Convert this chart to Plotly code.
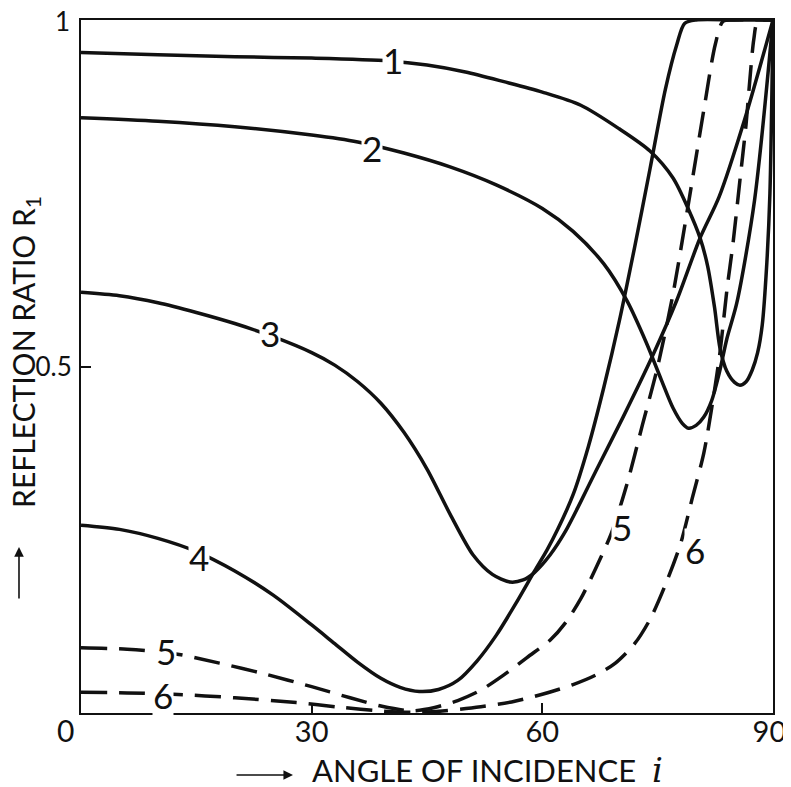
import plotly.graph_objects as go

# ---- data (angle of incidence in degrees, reflection ratio R1) ----
c1_x = [0, 10, 20, 30, 40, 45, 50, 55, 60, 65, 70, 74, 77, 79, 80.5, 81.5, 82.4, 83.1, 84, 85, 85.7, 86.5, 87.3, 88, 88.6, 89.2, 89.6, 90]
c1_y = [0.953, 0.950, 0.947, 0.945, 0.941, 0.935, 0.925, 0.911, 0.896, 0.877, 0.843, 0.811, 0.772, 0.727, 0.686, 0.645, 0.585, 0.527, 0.493, 0.477, 0.473, 0.478, 0.495, 0.52, 0.56, 0.65, 0.75, 1.0]

c2_x = [0, 10, 20, 30, 36, 42, 48, 54, 60, 64, 68, 71, 73.5, 75.5, 77, 78.2, 79, 80, 81, 82, 83, 84, 85.3, 87.6, 90]
c2_y = [0.859, 0.854, 0.846, 0.834, 0.824, 0.808, 0.788, 0.762, 0.728, 0.695, 0.648, 0.595, 0.535, 0.48, 0.44, 0.418, 0.411, 0.415, 0.427, 0.45, 0.49, 0.54, 0.592, 0.74, 1.0]

c3_x = [0, 5, 10, 15, 20, 25, 30, 33, 36, 39, 42, 45, 48, 51, 53.5, 55.8, 57.5, 59, 61, 63, 65, 67, 70.5, 74.4, 77.5, 80.5, 83, 86.3, 90]
c3_y = [0.607, 0.602, 0.592, 0.578, 0.562, 0.543, 0.520, 0.502, 0.478, 0.447, 0.405, 0.352, 0.287, 0.228, 0.200, 0.189, 0.192, 0.203, 0.228, 0.262, 0.305, 0.35, 0.427, 0.517, 0.596, 0.685, 0.745, 0.856, 1.0]

c4_x = [0, 5, 10, 15, 20, 25, 30, 33, 36, 39, 41.5, 44, 46.5, 49, 51.5, 54, 56.5, 59, 60.6, 62, 64, 66, 68, 70, 72, 74, 76, 77.5, 78.5, 80, 85, 90]
c4_y = [0.271, 0.265, 0.252, 0.233, 0.205, 0.170, 0.127, 0.100, 0.073, 0.050, 0.037, 0.031, 0.034, 0.047, 0.075, 0.112, 0.157, 0.205, 0.235, 0.265, 0.315, 0.385, 0.47, 0.565, 0.672, 0.785, 0.9, 0.965, 0.995, 1.0, 1.0, 1.0]

c5_x = [0, 6, 12, 18, 24, 30, 35, 39, 43, 46, 49, 52, 55, 58, 61, 63, 65, 67, 69, 71, 73, 75, 77, 79, 81, 82.5, 83.5, 85, 90]
c5_y = [0.094, 0.092, 0.086, 0.072, 0.056, 0.038, 0.022, 0.010, 0.003, 0.008, 0.018, 0.033, 0.055, 0.080, 0.105, 0.13, 0.165, 0.21, 0.26, 0.33, 0.415, 0.50, 0.605, 0.735, 0.87, 0.965, 0.998, 1.0, 1.0]

c6_x = [0, 6, 12, 20, 28, 34, 39, 43, 47, 52, 56, 60, 64, 67, 69.5, 72, 74, 76, 78, 79.5, 81, 82.2, 83.1, 84, 84.8, 85.7, 86.5, 87, 87.5, 88, 89, 90]
c6_y = [0.030, 0.029, 0.027, 0.022, 0.015, 0.008, 0.003, 0.001, 0.003, 0.009, 0.016, 0.027, 0.041, 0.055, 0.072, 0.10, 0.135, 0.185, 0.245, 0.31, 0.375, 0.452, 0.52, 0.61, 0.678, 0.769, 0.85, 0.915, 0.972, 0.998, 1.0, 1.0]

curve_names = ["1", "2", "3", "4", "5", "6"]
label_x = [40.6, 37.8, 24.6, 15.3, 11.1, 10.7, 70.4, 79.8]
label_y = [0.942, 0.815, 0.548, 0.225, 0.089, 0.026, 0.268, 0.235]
label_text = ["1", "2", "3", "4", "5", "6", "5", "6"]

x_ticks = [30, 60, 90]
x_ticktext = ["30", "60", "90\u2009\u2009"]
y_ticks = [0.5, 1]
y_ticktext = ["0.5", ""]

FONT = "Lato"
INK = "#111111"

fig = go.Figure()
series = [(c1_x, c1_y, "solid"), (c2_x, c2_y, "solid"), (c3_x, c3_y, "solid"),
          (c4_x, c4_y, "solid"), (c5_x, c5_y, "26px,12px"), (c6_x, c6_y, "26px,12px")]
for name, (xs, ys, dash) in zip(curve_names, series):
    fig.add_trace(go.Scatter(x=xs, y=ys, mode="lines", name=name,
                             line=dict(color=INK, width=3.5, dash=dash, shape="spline", smoothing=0.8),
                             showlegend=False, hoverinfo="skip"))

for tx, ty, tt in zip(label_x, label_y, label_text):
    fig.add_annotation(x=tx, y=ty, text=tt, showarrow=False, xref="x", yref="y",
                       font=dict(family=FONT, size=35, color=INK),
                       bgcolor="white", borderpad=0)

# corner "0" and top "1" of the value scale
fig.add_annotation(x=0, y=0, xref="x", yref="y", text="0", showarrow=False,
                   xshift=-16, yshift=-17, font=dict(family=FONT, size=30, color=INK))
fig.add_annotation(x=0, y=1, xref="x", yref="y", text=str(y_ticks[-1]), showarrow=False,
                   xshift=-19, yshift=-1, font=dict(family=FONT, size=26, color=INK))

# axis titles
fig.add_annotation(xref="paper", yref="paper", x=-0.081, y=0.521, textangle=-90,
                   text="REFLECTION RATIO R<sub>1</sub>", showarrow=False,
                   xanchor="center", yanchor="middle",
                   font=dict(family=FONT, size=30, color=INK))
fig.add_annotation(xref="paper", yref="paper", x=0.588, y=-0.082,
                   text="ANGLE OF INCIDENCE  <span style=\"font-family:'DejaVu Serif';font-size:34px\"><i>i</i></span>",
                   showarrow=False, xanchor="center", yanchor="middle",
                   font=dict(family=FONT, size=31, color=INK))
# title arrows
fig.add_annotation(xref="paper", yref="paper", x=0.3064, y=-0.0895, ax=-58, ay=0,
                   text="", showarrow=True, arrowhead=2, arrowsize=1.2, arrowwidth=1.6,
                   arrowcolor=INK)
fig.add_annotation(xref="paper", yref="paper", x=-0.0896, y=0.2395, ax=0, ay=53,
                   text="", showarrow=True, arrowhead=2, arrowsize=1.2, arrowwidth=1.6,
                   arrowcolor=INK)

# page body adds an 8px offset; margins compensate so the plot box lands at (81..773, 20..713)
fig.update_layout(
    width=791, height=787,
    margin=dict(l=73, r=26, t=12, b=82),
    paper_bgcolor="white", plot_bgcolor="white",
    font=dict(family=FONT, color=INK),
)
fig.update_xaxes(range=[0, 90], tickvals=x_ticks, ticktext=x_ticktext,
                 ticks="inside", ticklen=10, tickwidth=1.5, tickcolor=INK,
                 showline=True, linecolor=INK, linewidth=2, mirror=True,
                 showgrid=False, zeroline=False, automargin=False,
                 tickfont=dict(family=FONT, size=29, color=INK), ticklabelstandoff=-8)
fig.update_yaxes(range=[0, 1], tickvals=y_ticks, ticktext=y_ticktext,
                 ticks="inside", ticklen=10, tickwidth=1.5, tickcolor=INK,
                 showline=True, linecolor=INK, linewidth=2, mirror=True,
                 showgrid=False, zeroline=False, automargin=False,
                 tickfont=dict(family=FONT, size=26, color=INK), ticklabelstandoff=2)

fig.write_html("out.html")
